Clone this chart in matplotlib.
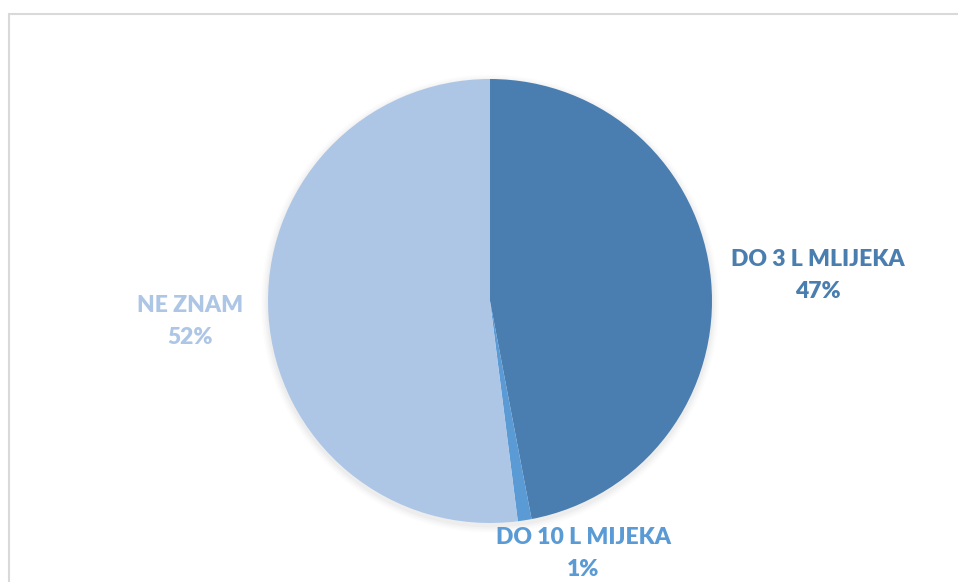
import matplotlib
matplotlib.use("Agg")
import matplotlib.pyplot as plt
from matplotlib.patches import Rectangle, Circle

categories = ["DO 3 L MLIJEKA", "DO 10 L MIJEKA", "NE ZNAM"]
values = [47, 1, 52]
slice_colors = ["#4A7EB0", "#5B9BD5", "#AEC6E6"]
label_colors = ["#4A7EAF", "#5B9BD5", "#AEC6E6"]

W, H = 958, 582
fig = plt.figure(figsize=(W / 100, H / 100), dpi=100)
fig.patch.set_facecolor("white")

# border frame
fig.patches.append(Rectangle((9 / W, -0.1), 1.2, 1 - 14 / H + 0.1, transform=fig.transFigure,
                             fill=False, edgecolor="#D9D9D9", linewidth=1.5))

cx, cy, r = 490, 301, 222
ax = fig.add_axes([(cx - r * 1.05) / W, (H - cy - r * 1.05) / H, 2.1 * r / W, 2.1 * r / H])

# soft shadow
for i, a in enumerate([0.025, 0.02, 0.015, 0.01]):
    ax.add_patch(Circle((0, -0.012), 1 + 0.008 * (i + 1), color="black", alpha=a, lw=0, zorder=0))

ax.pie(values, colors=slice_colors, startangle=90, counterclock=False, radius=1,
       wedgeprops=dict(linewidth=0, zorder=1))
ax.set_xlim(-1.05, 1.05)
ax.set_ylim(-1.05, 1.05)
ax.axis("off")

font = dict(family=["Lato", "DejaVu Sans"], fontweight="heavy", fontsize=16.5, ha="center", va="center")
label_pos = [(818, 260, 292), (583, 538, 570), (190, 305, 337)]
for cat, v, col, (px, py1, py2) in zip(categories, values, label_colors, label_pos):
    fig.text(px / W, 1 - py1 / H, cat, color=col, **font)
    fig.text(px / W, 1 - py2 / H, f"{v}%", color=col, **font)

fig.savefig("out.png", dpi=100, facecolor="white")
